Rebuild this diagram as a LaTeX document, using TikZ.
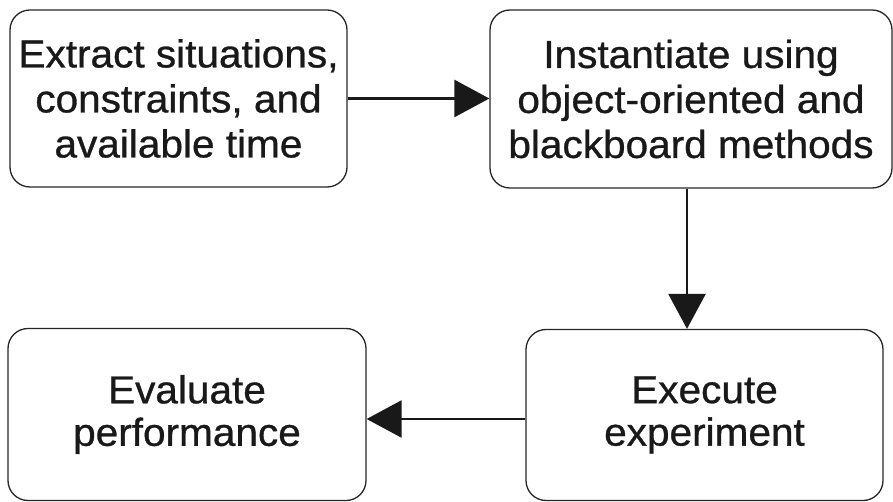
\documentclass[tikz,border=0pt]{standalone}
\usepackage{fontspec}
\setmainfont[FakeStretch=1.04, FakeBold=0.8]{Liberation Sans}
\usetikzlibrary{arrows.meta}
\tikzset{
  box/.style={draw=black!85, line width=1.3pt, rounded corners=20pt, align=center, inner sep=0pt, text=black!90},
  bigtxt/.style={font=\fontsize{39}{45}\selectfont},
  midtxt/.style={font=\fontsize{39}{42.5}\selectfont},
  arr/.style={draw=black!90, line width=2.6pt, -{Triangle[length=35pt,width=37pt]}}
}
\begin{document}
\begin{tikzpicture}[x=1pt,y=-1pt]
\useasboundingbox (0,0) rectangle (893,502);
\node[box, bigtxt, minimum width=337pt, minimum height=177pt] (b1) at (178.5,98.5)
  {Extract situations,\\constraints, and\\available time};
\node[box, bigtxt, minimum width=402pt, minimum height=178pt] (b2) at (691,99)
  {Instantiate using\\object-oriented and\\blackboard methods};
\node[box, midtxt, minimum width=358pt, minimum height=172pt] (b3) at (187,414.5)
  {Evaluate\\performance};
\node[box, midtxt, minimum width=357pt, minimum height=171pt] (b4) at (704.5,415)
  {Execute\\experiment};
\draw[arr] (b1.east) -- (b1.east -| b2.west);
\draw[arr] ([xshift=-4pt]b2.south) -- ([xshift=-4pt]b2.south |- b4.north);
\draw[arr] ([yshift=-4pt]b4.west) -- ([yshift=-4pt]b4.west -| b3.east);
\end{tikzpicture}
\end{document}
